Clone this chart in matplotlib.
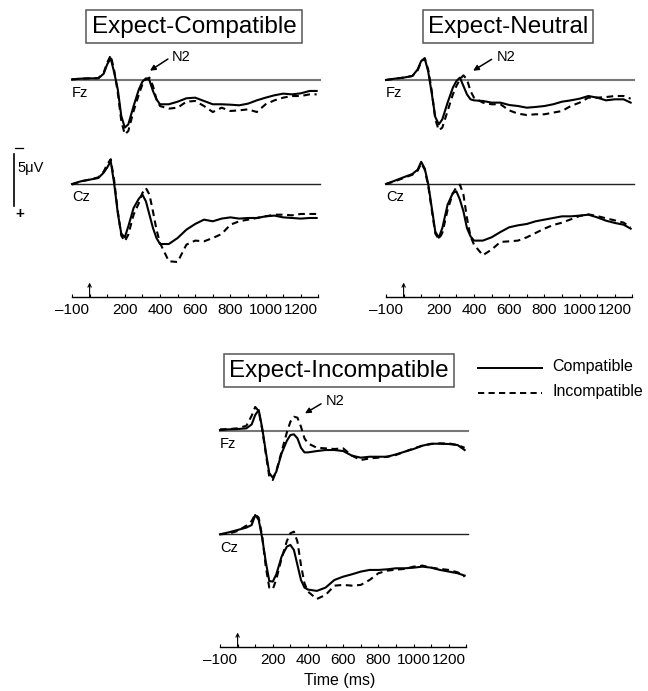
import matplotlib
matplotlib.use("Agg")
import matplotlib.pyplot as plt
from matplotlib.lines import Line2D

plt.rcParams['font.family'] = ['Liberation Sans', 'DejaVu Sans']

# time points (ms) shared by every trace
times = [-100, -50, 0, 50, 80, 100, 120, 140, 160, 180, 200, 220, 250, 280, 300,
         320, 340, 360, 380, 400, 450, 500, 550, 600, 650, 700, 750, 800, 850,
         900, 950, 1000, 1050, 1100, 1150, 1200, 1250, 1290]

# amplitudes in microvolts (negative plotted up)
ec_fz_comp = [-0.06, -0.13, -0.16, -0.16, -0.61, -1.52, -2.10, -0.70, 0.90, 3.48, 4.61, 4.29, 2.52,
              0.90, 0.16, -0.16, 0.03, 1.06, 1.87, 2.35, 2.35, 2.10, 1.77, 1.71, 2.03, 2.35, 2.35,
              2.39, 2.45, 2.29, 1.97, 1.71, 1.48, 1.32, 1.39, 1.29, 1.06, 1.06]
ec_fz_incomp = [-0.06, -0.13, -0.16, -0.19, -0.71, -1.68, -2.39, -0.90, 1.20, 3.97, 5.26, 4.94, 3.00,
                1.39, 0.42, -0.06, -0.23, 0.58, 1.87, 2.52, 2.77, 2.68, 2.10, 2.03, 2.52, 3.10, 2.68,
                3.00, 2.94, 2.84, 3.10, 2.35, 1.97, 1.71, 1.55, 1.55, 1.39, 1.39]
ec_cz_comp = [0.0, -0.26, -0.42, -0.58, -1.10, -1.60, -2.20, 0.0, 2.80, 4.80, 5.16, 4.10, 2.32,
              1.42, 1.03, 1.68, 2.97, 4.26, 5.23, 5.81, 5.81, 5.23, 4.42, 3.87, 3.45, 3.61, 3.35,
              3.23, 3.35, 3.29, 3.29, 3.13, 3.06, 3.23, 3.29, 3.35, 3.29, 3.29]
ec_cz_incomp = [0.06, -0.26, -0.42, -0.65, -1.20, -1.90, -2.40, -0.30, 2.60, 5.00, 5.55, 4.90, 2.97,
                1.84, 0.87, 0.39, 1.03, 2.65, 4.42, 5.71, 7.48, 7.55, 5.87, 5.48, 5.55, 5.23, 4.84,
                3.94, 3.61, 3.45, 3.29, 3.13, 2.97, 2.97, 3.03, 2.90, 2.90, 2.90]

en_fz_comp = [0.0, -0.13, -0.23, -0.39, -1.03, -1.84, -2.10, -0.80, 1.30, 3.58, 4.29, 3.81, 2.19,
              0.74, 0.10, -0.23, 0.58, 1.39, 1.87, 1.97, 2.03, 2.19, 2.19, 2.42, 2.52, 2.68, 2.61,
              2.52, 2.35, 2.10, 1.97, 1.81, 1.55, 1.71, 1.97, 1.87, 1.87, 2.19]
en_fz_incomp = [0.0, -0.13, -0.23, -0.39, -0.94, -1.77, -2.10, -1.00, 1.06, 3.81, 4.87, 4.61, 3.00,
                1.39, 0.58, -0.06, -0.45, -0.06, 1.06, 1.71, 2.19, 2.35, 2.35, 2.94, 3.26, 3.39, 3.32,
                3.32, 3.16, 3.00, 2.52, 2.19, 1.71, 1.71, 1.65, 1.55, 1.55, 1.81]
en_cz_comp = [0.0, -0.32, -0.65, -0.97, -1.39, -2.15, -1.50, 0.0, 2.30, 4.60, 5.20, 4.26, 2.00,
              0.87, 0.71, 1.52, 2.65, 4.26, 5.06, 5.48, 5.48, 5.16, 4.65, 4.19, 4.00, 3.87, 3.61,
              3.45, 3.29, 3.13, 3.13, 3.06, 2.97, 3.23, 3.55, 3.77, 3.94, 4.32]
en_cz_incomp = [0.0, -0.26, -0.58, -0.90, -1.29, -2.00, -1.40, 0.20, 2.50, 4.80, 5.35, 4.74, 2.50,
                0.90, 0.30, 0.06, 1.03, 3.29, 5.06, 5.87, 6.90, 6.35, 5.61, 5.55, 5.48, 5.16, 4.74,
                4.32, 3.97, 3.74, 3.42, 3.10, 2.94, 3.10, 3.32, 3.52, 3.74, 4.19]

ei_fz_comp = [-0.06, -0.13, -0.16, -0.23, -0.61, -1.52, -2.00, -0.23, 2.00, 4.10, 4.55, 3.97, 2.19,
              0.97, 0.42, 0.35, 0.74, 1.65, 2.10, 2.10, 1.97, 1.87, 1.87, 1.97, 2.42, 2.61, 2.52,
              2.52, 2.52, 2.29, 2.03, 1.77, 1.45, 1.26, 1.26, 1.29, 1.39, 1.87]
ei_fz_incomp = [-0.13, -0.16, -0.23, -0.48, -1.45, -2.30, -1.90, -0.10, 2.20, 4.45, 4.77, 3.90, 2.03,
                0.16, -0.87, -1.35, -1.26, -0.39, 0.74, 1.23, 1.65, 1.71, 1.77, 1.71, 2.42, 2.84, 2.68,
                2.61, 2.52, 2.35, 2.03, 1.71, 1.45, 1.29, 1.23, 1.23, 1.39, 1.65]
ei_cz_comp = [0.0, -0.19, -0.42, -0.65, -0.90, -1.87, -1.39, 0.39, 2.65, 4.52, 4.58, 3.87, 2.16,
              1.19, 1.03, 1.52, 2.97, 4.42, 5.16, 5.35, 5.48, 5.16, 4.42, 4.10, 3.87, 3.61, 3.45,
              3.45, 3.39, 3.29, 3.29, 3.23, 3.13, 3.23, 3.45, 3.61, 3.77, 4.00]
ei_cz_incomp = [0.0, -0.06, -0.32, -0.84, -1.29, -1.94, -1.61, 0.23, 3.13, 5.16, 5.32, 4.35, 2.32,
                0.65, -0.10, -0.26, 0.71, 2.97, 4.74, 5.55, 6.26, 5.87, 4.97, 4.90, 4.97, 4.90, 4.42,
                3.77, 3.52, 3.42, 3.35, 3.13, 3.03, 3.23, 3.35, 3.45, 3.68, 4.10]

tick_pos = list(range(-100, 1301, 100))
tick_lab = ['\u2013100', '', '', '200', '', '400', '', '600', '', '800', '', '1000', '', '1200', '']

W, H = 648, 691
PX_UV = 10.33      # pixels per microvolt
PX_MS = 0.176      # pixels per ms
SPAN = 1400 * PX_MS
DASH = (0, (3.2, 2.2))

fig = plt.figure(figsize=(W / 100, H / 100), dpi=100)


def rect(x, y, w, h):
    return [x / W, 1 - (y + h) / H, w / W, h / H]


def trace_ax(x0, base, name, comp, incomp, base_col, base_lw):
    half = 60
    ax = fig.add_axes(rect(x0, base - half, SPAN, 2 * half))
    ax.set_xlim(-100, 1300)
    ax.set_ylim(half / PX_UV, -half / PX_UV)
    ax.axis('off')
    ax.patch.set_alpha(0)
    ax.plot([-100, 1310], [0, 0], color=base_col, lw=base_lw, clip_on=False)
    ax.plot(times, comp, color='k', lw=1.5, clip_on=False, solid_joinstyle='round')
    ax.plot(times, incomp, color='k', lw=1.5, ls=DASH, clip_on=False)
    ax.text(-99, 1.3, name, fontsize=10.5, va='center', ha='left')
    return ax


def time_ax(x0, y_axis):
    ax = fig.add_axes(rect(x0, y_axis - 20, SPAN, 20))
    ax.set_xlim(-100, 1300)
    ax.set_ylim(0, 1)
    ax.patch.set_alpha(0)
    for s in ['top', 'left', 'right']:
        ax.spines[s].set_visible(False)
    ax.spines['bottom'].set_linewidth(1.0)
    ax.set_yticks([])
    ax.set_xticks(tick_pos)
    ax.set_xticklabels(tick_lab)
    ax.tick_params(axis='x', direction='in', length=2.5, width=0.8, pad=4, labelsize=11)
    ax.annotate('', xy=(0, 0.72), xytext=(0, 0.0), xycoords=('data', 'axes fraction'),
                arrowprops=dict(arrowstyle='->', lw=0.8, color='k', shrinkA=0, shrinkB=0,
                                mutation_scale=6))
    return ax


def title_box(xc, yc, txt):
    fig.text(xc / W, 1 - yc / H, txt, fontsize=17.5, ha='center', va='center',
             bbox=dict(boxstyle='square,pad=0.22', fc='white', ec='#555555', lw=1.1))


def n2_note(ax, head, tail, label):
    ax.annotate('', xy=head, xytext=tail,
                arrowprops=dict(arrowstyle='-|>', lw=1.1, color='k', shrinkA=0, shrinkB=0,
                                mutation_scale=8))
    ax.text(label[0], label[1], 'N2', fontsize=10.5, ha='center', va='center')


panels = [
    (72, 80, 184, 297, ec_fz_comp, ec_fz_incomp, ec_cz_comp, ec_cz_incomp,
     (194, 26.5, 'Expect-Compatible'), ((343, -0.9), (445, -2.03), (519, -2.2))),
    (386, 80, 184, 297, en_fz_comp, en_fz_incomp, en_cz_comp, en_cz_incomp,
     (508, 26.5, 'Expect-Neutral'), ((395, -0.9), (500, -2.0), (580, -2.2))),
    (220, 430.7, 534.3, 647, ei_fz_comp, ei_fz_incomp, ei_cz_comp, ei_cz_incomp,
     (339, 370.5, 'Expect-Incompatible'), ((383, -1.68), (474, -2.6), (553, -2.85))),
]

for x0, fz_b, cz_b, ax_y, fzc, fzi, czc, czi, ttl, n2 in panels:
    fz_ax = trace_ax(x0, fz_b, 'Fz', fzc, fzi, '#777777', 1.5)
    trace_ax(x0, cz_b, 'Cz', czc, czi, '#222222', 1.0)
    time_ax(x0, ax_y)
    title_box(*ttl)
    n2_note(fz_ax, *n2)

# time label under the bottom panel
fig.text(340 / W, 1 - 681 / H, 'Time (ms)', fontsize=11.5, ha='center', va='center')

# legend
fig.add_artist(Line2D([478 / W, 542 / W], [1 - 367.5 / H, 1 - 367.5 / H], color='k', lw=1.4))
fig.add_artist(Line2D([478 / W, 542 / W], [1 - 393 / H, 1 - 393 / H], color='k', lw=1.4,
                      ls=DASH))
fig.text(552 / W, 1 - 367 / H, 'Compatible', fontsize=11.5, ha='left', va='center')
fig.text(553 / W, 1 - 392 / H, 'Incompatible', fontsize=11.5, ha='left', va='center')

# voltage scale bar
fig.add_artist(Line2D([14 / W, 14 / W], [1 - 154 / H, 1 - 206 / H], color='k', lw=1.2))
fig.add_artist(Line2D([15 / W, 23 / W], [1 - 148 / H, 1 - 148 / H], color='k', lw=0.9))
fig.text(17 / W, 1 - 168 / H, '5\u03bcV', fontsize=10.5, ha='left', va='center')
fig.text(20 / W, 1 - 214 / H, '+', fontsize=11, ha='center', va='center', fontweight='bold')

fig.savefig('out.png', dpi=100)
